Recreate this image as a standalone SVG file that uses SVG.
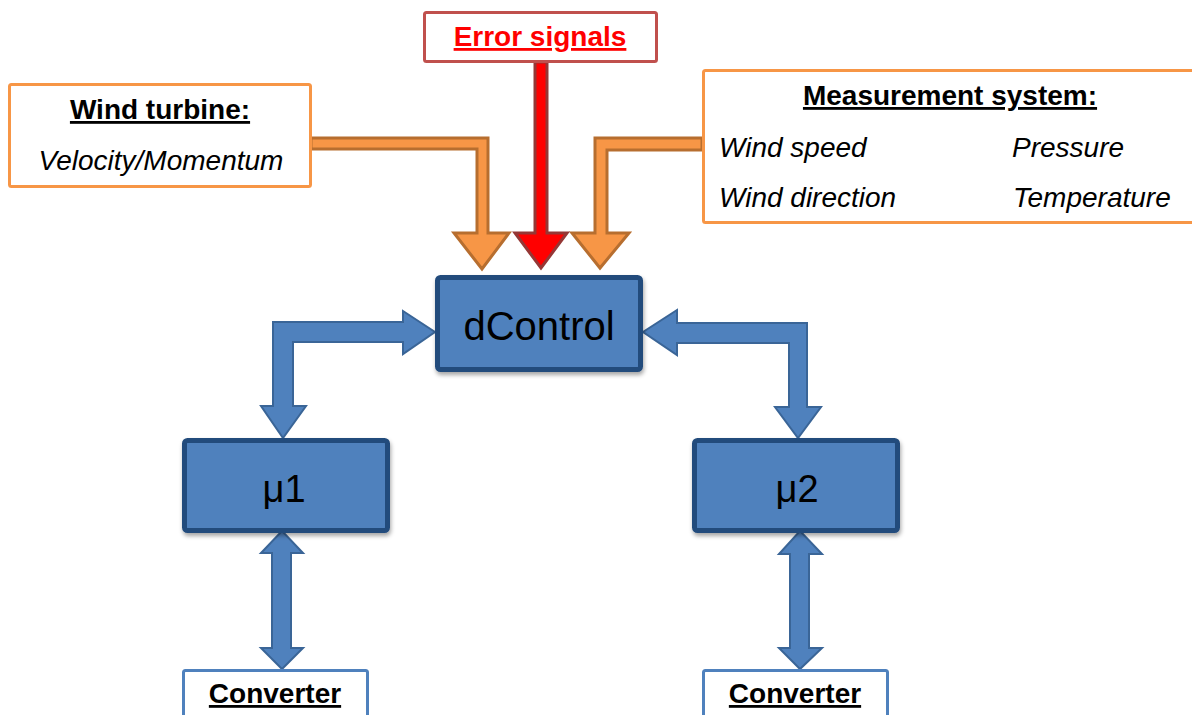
<svg xmlns="http://www.w3.org/2000/svg" width="1192" height="715" viewBox="0 0 1192 715">
  <defs>
    <filter id="shadow" x="-10%" y="-10%" width="125%" height="130%">
      <feDropShadow dx="1" dy="3" stdDeviation="2" flood-color="#000" flood-opacity="0.35"/>
    </filter>
  </defs>
  <style>
    text { font-family: "Liberation Sans", Arial, sans-serif; }
    .title { font-size: 28px; font-weight: bold; text-decoration: underline; fill: #000; text-anchor: middle; }
    .item { font-size: 28px; font-style: italic; fill: #000; }
    .info { fill: #fff; stroke: #F79646; stroke-width: 3; }
    .err { fill: #fff; stroke: #C0504D; stroke-width: 3; }
    .unit { fill: #4F81BD; stroke: #244C7C; stroke-width: 5; filter: url(#shadow); }
    .unit-label { font-size: 38px; fill: #000; text-anchor: middle; }
    .conv { fill: #fff; stroke: #4F81BD; stroke-width: 3; }
    .feed { fill: #F79646; stroke: #B76E2F; stroke-width: 3; stroke-linejoin: miter; }
    .fault { fill: #FF0000; stroke: #953735; stroke-width: 3; }
    .bus { fill: #4F81BD; stroke: #3A6597; stroke-width: 2; }
  </style>

  <!-- connectors -->
  <g id="connectors">
    <path class="feed" d="M311,138 H488 V233 H509 L482,269 L454,233 H477 V149 H311 Z"/>
    <path class="feed" d="M702,138 H595 V233 H572 L600,268 L629,233 H607 V150 H702 Z"/>
    <path class="fault" d="M535,62 H547 V233 H567 L541,268 L515,233 H535 Z"/>
    <path class="bus" d="M273,322 H403 V311 L435,332 L403,354 V342 H293 V406 H306 L283,438 L261,406 H273 Z"/>
    <path class="bus" d="M807,323 H677 V310 L643,332 L677,355 V343 H789 V407 H775 L798,438 L821,407 H807 Z"/>
    <path class="bus" d="M282,531 L303,553 H291 V648 H303 L282,669 L261,648 H272 V553 H261 Z"/>
    <path class="bus" d="M800,531 L822,554 H809 V648 H822 L800,669 L779,648 H790 V554 H779 Z"/>
  </g>

  <g id="wind-turbine">
    <rect class="info" x="9.5" y="84.5" width="301" height="102" rx="2"/>
    <text class="title" x="160" y="119">Wind turbine:</text>
    <text class="item" x="161" y="170" text-anchor="middle">Velocity/Momentum</text>
  </g>

  <g id="error-signals">
    <rect class="err" x="424.5" y="12.5" width="232" height="49" rx="2"/>
    <text class="title" x="540" y="46" style="fill:#FF0000">Error signals</text>
  </g>

  <g id="measurement-system">
    <rect class="info" x="703.5" y="70.5" width="520" height="152" rx="2"/>
    <text class="title" x="950" y="105">Measurement system:</text>
    <text class="item" x="719" y="157">Wind speed</text>
    <text class="item" x="1012" y="157">Pressure</text>
    <text class="item" x="719" y="207">Wind direction</text>
    <text class="item" x="1013" y="207">Temperature</text>
  </g>

  <g id="dcontrol">
    <rect class="unit" x="437.5" y="277.5" width="203" height="92" rx="3"/>
    <text class="unit-label" x="539" y="340" style="font-size:40px">dControl</text>
  </g>

  <g id="mu1">
    <rect class="unit" x="184.5" y="440.5" width="203" height="90" rx="3"/>
    <text class="unit-label" x="284" y="502">μ1</text>
  </g>

  <g id="mu2">
    <rect class="unit" x="694.5" y="440.5" width="203" height="90" rx="3"/>
    <text class="unit-label" x="797" y="502">μ2</text>
  </g>

  <g id="converter-1">
    <rect class="conv" x="183.5" y="670.5" width="184" height="60" rx="2"/>
    <text class="title" x="275" y="703">Converter</text>
  </g>

  <g id="converter-2">
    <rect class="conv" x="703.5" y="670.5" width="184" height="60" rx="2"/>
    <text class="title" x="795" y="703">Converter</text>
  </g>
</svg>
